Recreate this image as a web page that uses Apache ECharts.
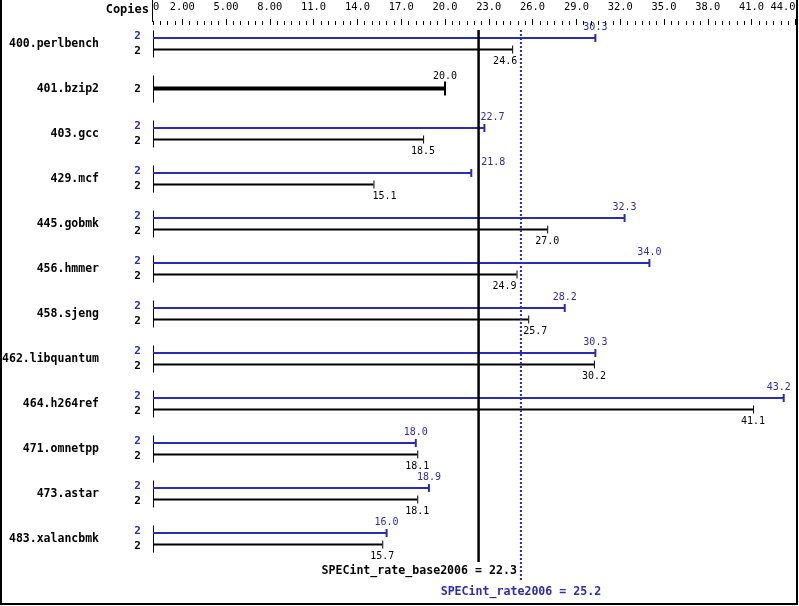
<!DOCTYPE html>
<html>
<head>
<meta charset="utf-8">
<script src="https://cdn.jsdelivr.net/npm/echarts@6/dist/echarts.min.js"></script>
<style>
html,body{margin:0;padding:0;background:#fff;}
#c{width:799px;height:606px;}
</style>
</head>
<body>
<div id="c"></div>
<script>
// ---- data ----
const benchmarks = ['400.perlbench','401.bzip2','403.gcc','429.mcf','445.gobmk','456.hmmer','458.sjeng','462.libquantum','464.h264ref','471.omnetpp','473.astar','483.xalancbmk'];
const peakRatio = [30.3, 20.0, 22.7, 21.8, 32.3, 34.0, 28.2, 30.3, 43.2, 18.0, 18.9, 16.0];
const baseRatio = [24.6, 20.0, 18.5, 15.1, 27.0, 24.9, 25.7, 30.2, 41.1, 18.1, 18.1, 15.7];
const peakCopies = [2, 2, 2, 2, 2, 2, 2, 2, 2, 2, 2, 2];
const baseCopies = [2, 2, 2, 2, 2, 2, 2, 2, 2, 2, 2, 2];
const baseSummary = 22.3;
const peakSummary = 25.2;
const xTickValues = [0, 2, 5, 8, 11, 14, 17, 20, 23, 26, 29, 32, 35, 38, 41, 44];
const xTickLabels = ['0','2.00','5.00','8.00','11.0','14.0','17.0','20.0','23.0','26.0','29.0','32.0','35.0','38.0','41.0','44.0'];

// ---- styling ----
const BLUE = '#2b2bb3';
const BLACK = '#000';
const MONO = '"DejaVu Sans Mono", "Liberation Mono", monospace';
// horizontal nudges of value labels (px) to keep them clear of summary lines
const peakLabelDx = {'403.gcc': 8, '429.mcf': 22, '464.h264ref': -5};
const baseLabelDx = {'400.perlbench': -7, '429.mcf': 11, '456.hmmer': -12, '458.sjeng': 7};

const chart = echarts.init(document.getElementById('c'), null, {renderer: 'canvas'});

function groupItem(params, api) {
  const i = api.value(2);
  const pv = api.value(0), bv = api.value(1);
  const name = benchmarks[i];
  const c0 = api.coord([0, i]);
  const x0 = c0[0], yc = c0[1];
  const xp = api.coord([pv, i])[0];
  const xb = api.coord([bv, i])[0];
  const ch = [];
  // left axis segment
  ch.push({type:'line', shape:{x1:x0+0.5, y1:yc-13, x2:x0+0.5, y2:yc+14}, style:{stroke:BLACK, lineWidth:1}});
  // name
  ch.push({type:'text', style:{text:name, x:x0-54, y:yc+0.5, align:'right', verticalAlign:'middle', fill:BLACK, font:'bold 11.5px ' + MONO}});
  if (pv === bv) {
    const y = yc;
    ch.push({type:'line', shape:{x1:x0, y1:y, x2:xb, y2:y}, style:{stroke:BLACK, lineWidth:4}});
    ch.push({type:'line', shape:{x1:xb, y1:y-7, x2:xb, y2:y+7}, style:{stroke:BLACK, lineWidth:2}});
    ch.push({type:'text', style:{text:bv.toFixed(1), x:xb + (baseLabelDx[name]||0), y:y-12, align:'center', verticalAlign:'middle', fill:BLACK, font:'10px ' + MONO}});
    ch.push({type:'text', style:{text:String(baseCopies[i]), x:x0-15.5, y:y+0.5, align:'center', verticalAlign:'middle', fill:BLACK, font:'bold 11px ' + MONO}});
  } else {
    const yp = yc - 5.5, yb = yc + 6;
    // peak (blue)
    ch.push({type:'line', shape:{x1:x0, y1:yp, x2:xp, y2:yp}, style:{stroke:BLUE, lineWidth:2}});
    ch.push({type:'line', shape:{x1:xp, y1:yp-4, x2:xp, y2:yp+4}, style:{stroke:BLUE, lineWidth:2}});
    ch.push({type:'text', style:{text:pv.toFixed(1), x:xp + (peakLabelDx[name]||0), y:yp-10.5, align:'center', verticalAlign:'middle', fill:BLUE, font:'10px ' + MONO}});
    ch.push({type:'text', style:{text:String(peakCopies[i]), x:x0-15.5, y:yp-1.5, align:'center', verticalAlign:'middle', fill:BLUE, font:'bold 11px ' + MONO}});
    // base (black)
    ch.push({type:'line', shape:{x1:x0, y1:yb, x2:xb, y2:yb}, style:{stroke:BLACK, lineWidth:2}});
    ch.push({type:'line', shape:{x1:xb+0.5, y1:yb-4, x2:xb+0.5, y2:yb+4}, style:{stroke:BLACK, lineWidth:1}});
    ch.push({type:'text', style:{text:bv.toFixed(1), x:xb + (baseLabelDx[name]||0), y:yb+11.5, align:'center', verticalAlign:'middle', fill:BLACK, font:'10px ' + MONO}});
    ch.push({type:'text', style:{text:String(baseCopies[i]), x:x0-15.5, y:yb+1.5, align:'center', verticalAlign:'middle', fill:BLACK, font:'bold 11px ' + MONO}});
  }
  return {type:'group', children: ch};
}

function summaryItem(params, api) {
  const v = api.value(0);
  const kind = api.value(1); // 0 base, 1 peak
  const n = benchmarks.length;
  const x = api.coord([v, 0])[0];
  const yTop = api.coord([v, 0])[1] - 13.5;
  const yLast = api.coord([v, n - 1])[1];
  const ch = [];
  if (kind === 0) {
    const xPeak = api.coord([peakSummary, 0])[0];
    ch.push({type:'line', shape:{x1:x, y1:yTop, x2:x, y2:yLast+23.5}, style:{stroke:BLACK, lineWidth:2.5}});
    ch.push({type:'text', style:{text:'SPECint_rate_base2006 = ' + v.toFixed(1), x:xPeak-4, y:yLast+32.5, align:'right', verticalAlign:'middle', fill:BLACK, font:'bold 11.6px ' + MONO}});
  } else {
    ch.push({type:'line', shape:{x1:x, y1:yTop, x2:x, y2:yLast+43.5}, style:{stroke:BLUE, lineWidth:2, lineDash:[2,2]}});
    ch.push({type:'text', style:{text:'SPECint_rate2006 = ' + v.toFixed(1), x:x, y:yLast+53.5, align:'center', verticalAlign:'middle', fill:BLUE, font:'bold 11.6px ' + MONO}});
  }
  return {type:'group', children: ch};
}

const option = {
  animation: false,
  backgroundColor: '#fff',
  grid: {left: 153, right: 3.6, top: 21, height: 540, containLabel: false},
  xAxis: [
    {
      type: 'value', position: 'top', min: 0, max: 44, offset: -4,
      axisLine: {show: false},
      splitLine: {show: false},
      axisTick: {show: true, inside: false, length: 6, lineStyle: {color: BLACK, width: 1}, customValues: xTickValues.slice(1)},
      axisLabel: {
        show: true, margin: 13, color: BLACK, fontFamily: MONO, fontSize: 10.4,
        customValues: xTickValues,
        alignMinLabel: 'left', alignMaxLabel: 'right',
        formatter: function (v) { const k = xTickValues.indexOf(v); return k >= 0 ? xTickLabels[k] : ''; }
      }
    },
    {
      type: 'value', position: 'top', min: 0, max: 44, interval: 0.5, offset: -4,
      axisLine: {show: false},
      splitLine: {show: false},
      axisTick: {show: true, inside: false, length: 4, lineStyle: {color: BLACK, width: 1}},
      axisLabel: {show: false}
    }
  ],
  yAxis: {
    type: 'category', inverse: true, data: benchmarks, show: false,
    boundaryGap: true
  },
  series: [
    {
      type: 'custom', xAxisIndex: 0, yAxisIndex: 0, clip: false,
      renderItem: groupItem,
      encode: {x: [0, 1], y: 2},
      data: benchmarks.map((b, i) => [peakRatio[i], baseRatio[i], i])
    },
    {
      type: 'custom', xAxisIndex: 0, yAxisIndex: 0, clip: false,
      renderItem: summaryItem,
      encode: {x: 0},
      data: [[baseSummary, 0], [peakSummary, 1]]
    }
  ],
  graphic: []
};
chart.setOption(option);

const x0px = chart.convertToPixel({xAxisIndex: 0}, 0);
chart.setOption({
  graphic: [
    {type:'polyline', shape:{points:[[1,0],[1,604],[797,604],[797,0]]}, style:{stroke:BLACK, lineWidth:2, fill:null}, silent:true},
    {type:'line', shape:{x1:x0px-0.5, y1:0, x2:x0px-0.5, y2:22}, style:{stroke:BLACK, lineWidth:1}, silent:true},
    {type:'text', style:{text:'Copies', x:x0px-4, y:10, align:'right', verticalAlign:'middle', fill:BLACK, font:'bold 12px ' + MONO}, silent:true}
  ]
});
</script>
</body>
</html>
